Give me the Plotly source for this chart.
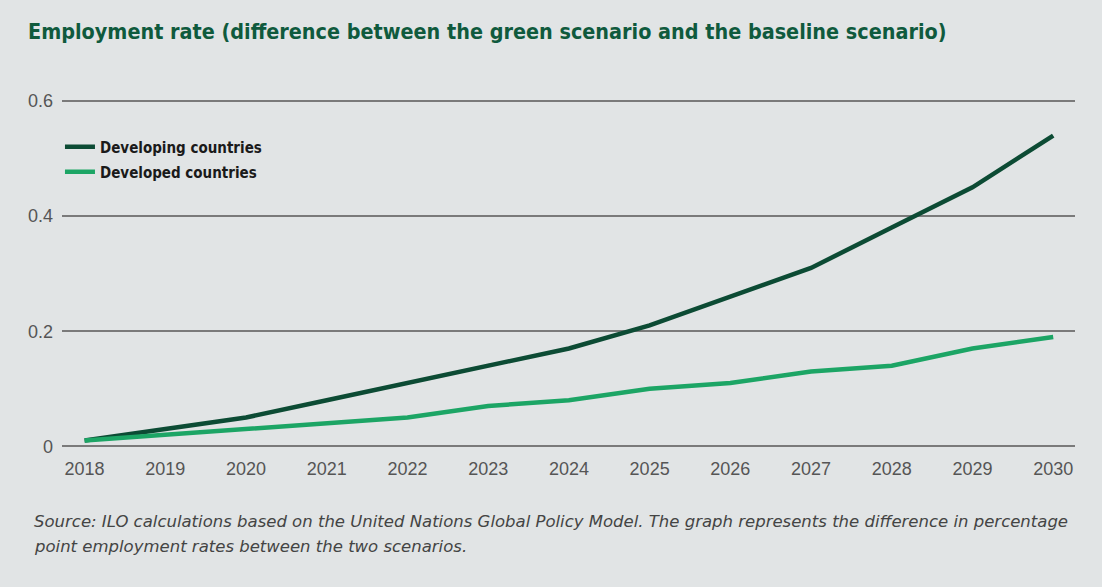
import plotly.graph_objects as go

years = [2018, 2019, 2020, 2021, 2022, 2023, 2024, 2025, 2026, 2027, 2028, 2029, 2030]
developing = [0.01, 0.03, 0.05, 0.08, 0.11, 0.14, 0.17, 0.21, 0.26, 0.31, 0.38, 0.45, 0.54]
developed = [0.01, 0.02, 0.03, 0.04, 0.05, 0.07, 0.08, 0.10, 0.11, 0.13, 0.14, 0.17, 0.19]
y_ticks = [0, 0.2, 0.4, 0.6]
y_labels = ["0", "0.2", "0.4", "0.6"]

title = "Employment rate (difference between the green scenario and the baseline scenario)"
caption_1 = "Source: ILO calculations based on the United Nations Global Policy Model. The graph represents the difference in percentage"
caption_2 = "point employment rates between the two scenarios."

BG = "#e1e4e5"
COND = "DejaVu Sans Condensed, Liberation Sans Narrow, sans-serif"
TICKF = "Liberation Sans, Arial, sans-serif"

fig = go.Figure()
fig.add_trace(go.Scatter(x=years, y=developing, mode="lines", name="Developing countries",
                         line=dict(color="#0c4b34", width=4.5), legend="legend"))
fig.add_trace(go.Scatter(x=years, y=developed, mode="lines", name="Developed countries",
                         line=dict(color="#1ca565", width=4.5), legend="legend2"))

legend_common = dict(xanchor="left", yanchor="middle", bgcolor="rgba(0,0,0,0)",
                     font=dict(family=COND, size=15, color="#1a1a1a", weight="bold"),
                     itemwidth=30)

fig.update_layout(
    width=1102, height=587,
    paper_bgcolor=BG, plot_bgcolor=BG,
    margin=dict(l=62, r=27, t=99, b=139),
    showlegend=True,
    legend=dict(x=-0.002, y=0.8625, **legend_common),
    legend2=dict(x=-0.002, y=0.791, **legend_common),
    xaxis=dict(range=[2017.72, 2030.27], tickvals=years, ticktext=[str(y) for y in years],
               showgrid=False, zeroline=False, showline=False, ticks="", ticklabelstandoff=8,
               tickfont=dict(family=TICKF, size=18, color="#555555")),
    yaxis=dict(range=[-0.003, 0.6035], tickvals=y_ticks, ticktext=y_labels,
               showgrid=True, gridcolor="#7a7a7a", gridwidth=1.5, zeroline=False, showline=False,
               ticks="", ticklabelstandoff=8,
               tickfont=dict(family=TICKF, size=18, color="#555555")),
    annotations=[
        dict(text="<b>" + title + "</b>", xref="paper", yref="paper", x=-0.036, y=1.0,
             yshift=68, xanchor="left", yanchor="middle", showarrow=False,
             font=dict(family=COND, size=21.4, color="#0f5a3d")),
        dict(text="<i>" + caption_1 + "</i>", xref="paper", yref="paper", x=-0.03, y=0,
             yshift=-73, xanchor="left", yanchor="middle", showarrow=False, align="left",
             font=dict(family="DejaVu Sans, sans-serif", size=16.5, color="#444444")),
        dict(text="<i>" + caption_2 + "</i>", xref="paper", yref="paper", x=-0.03, y=0,
             yshift=-98, xanchor="left", yanchor="middle", showarrow=False, align="left",
             font=dict(family="DejaVu Sans, sans-serif", size=16.5, color="#444444")),
    ],
)

fig.write_html("out.html")
